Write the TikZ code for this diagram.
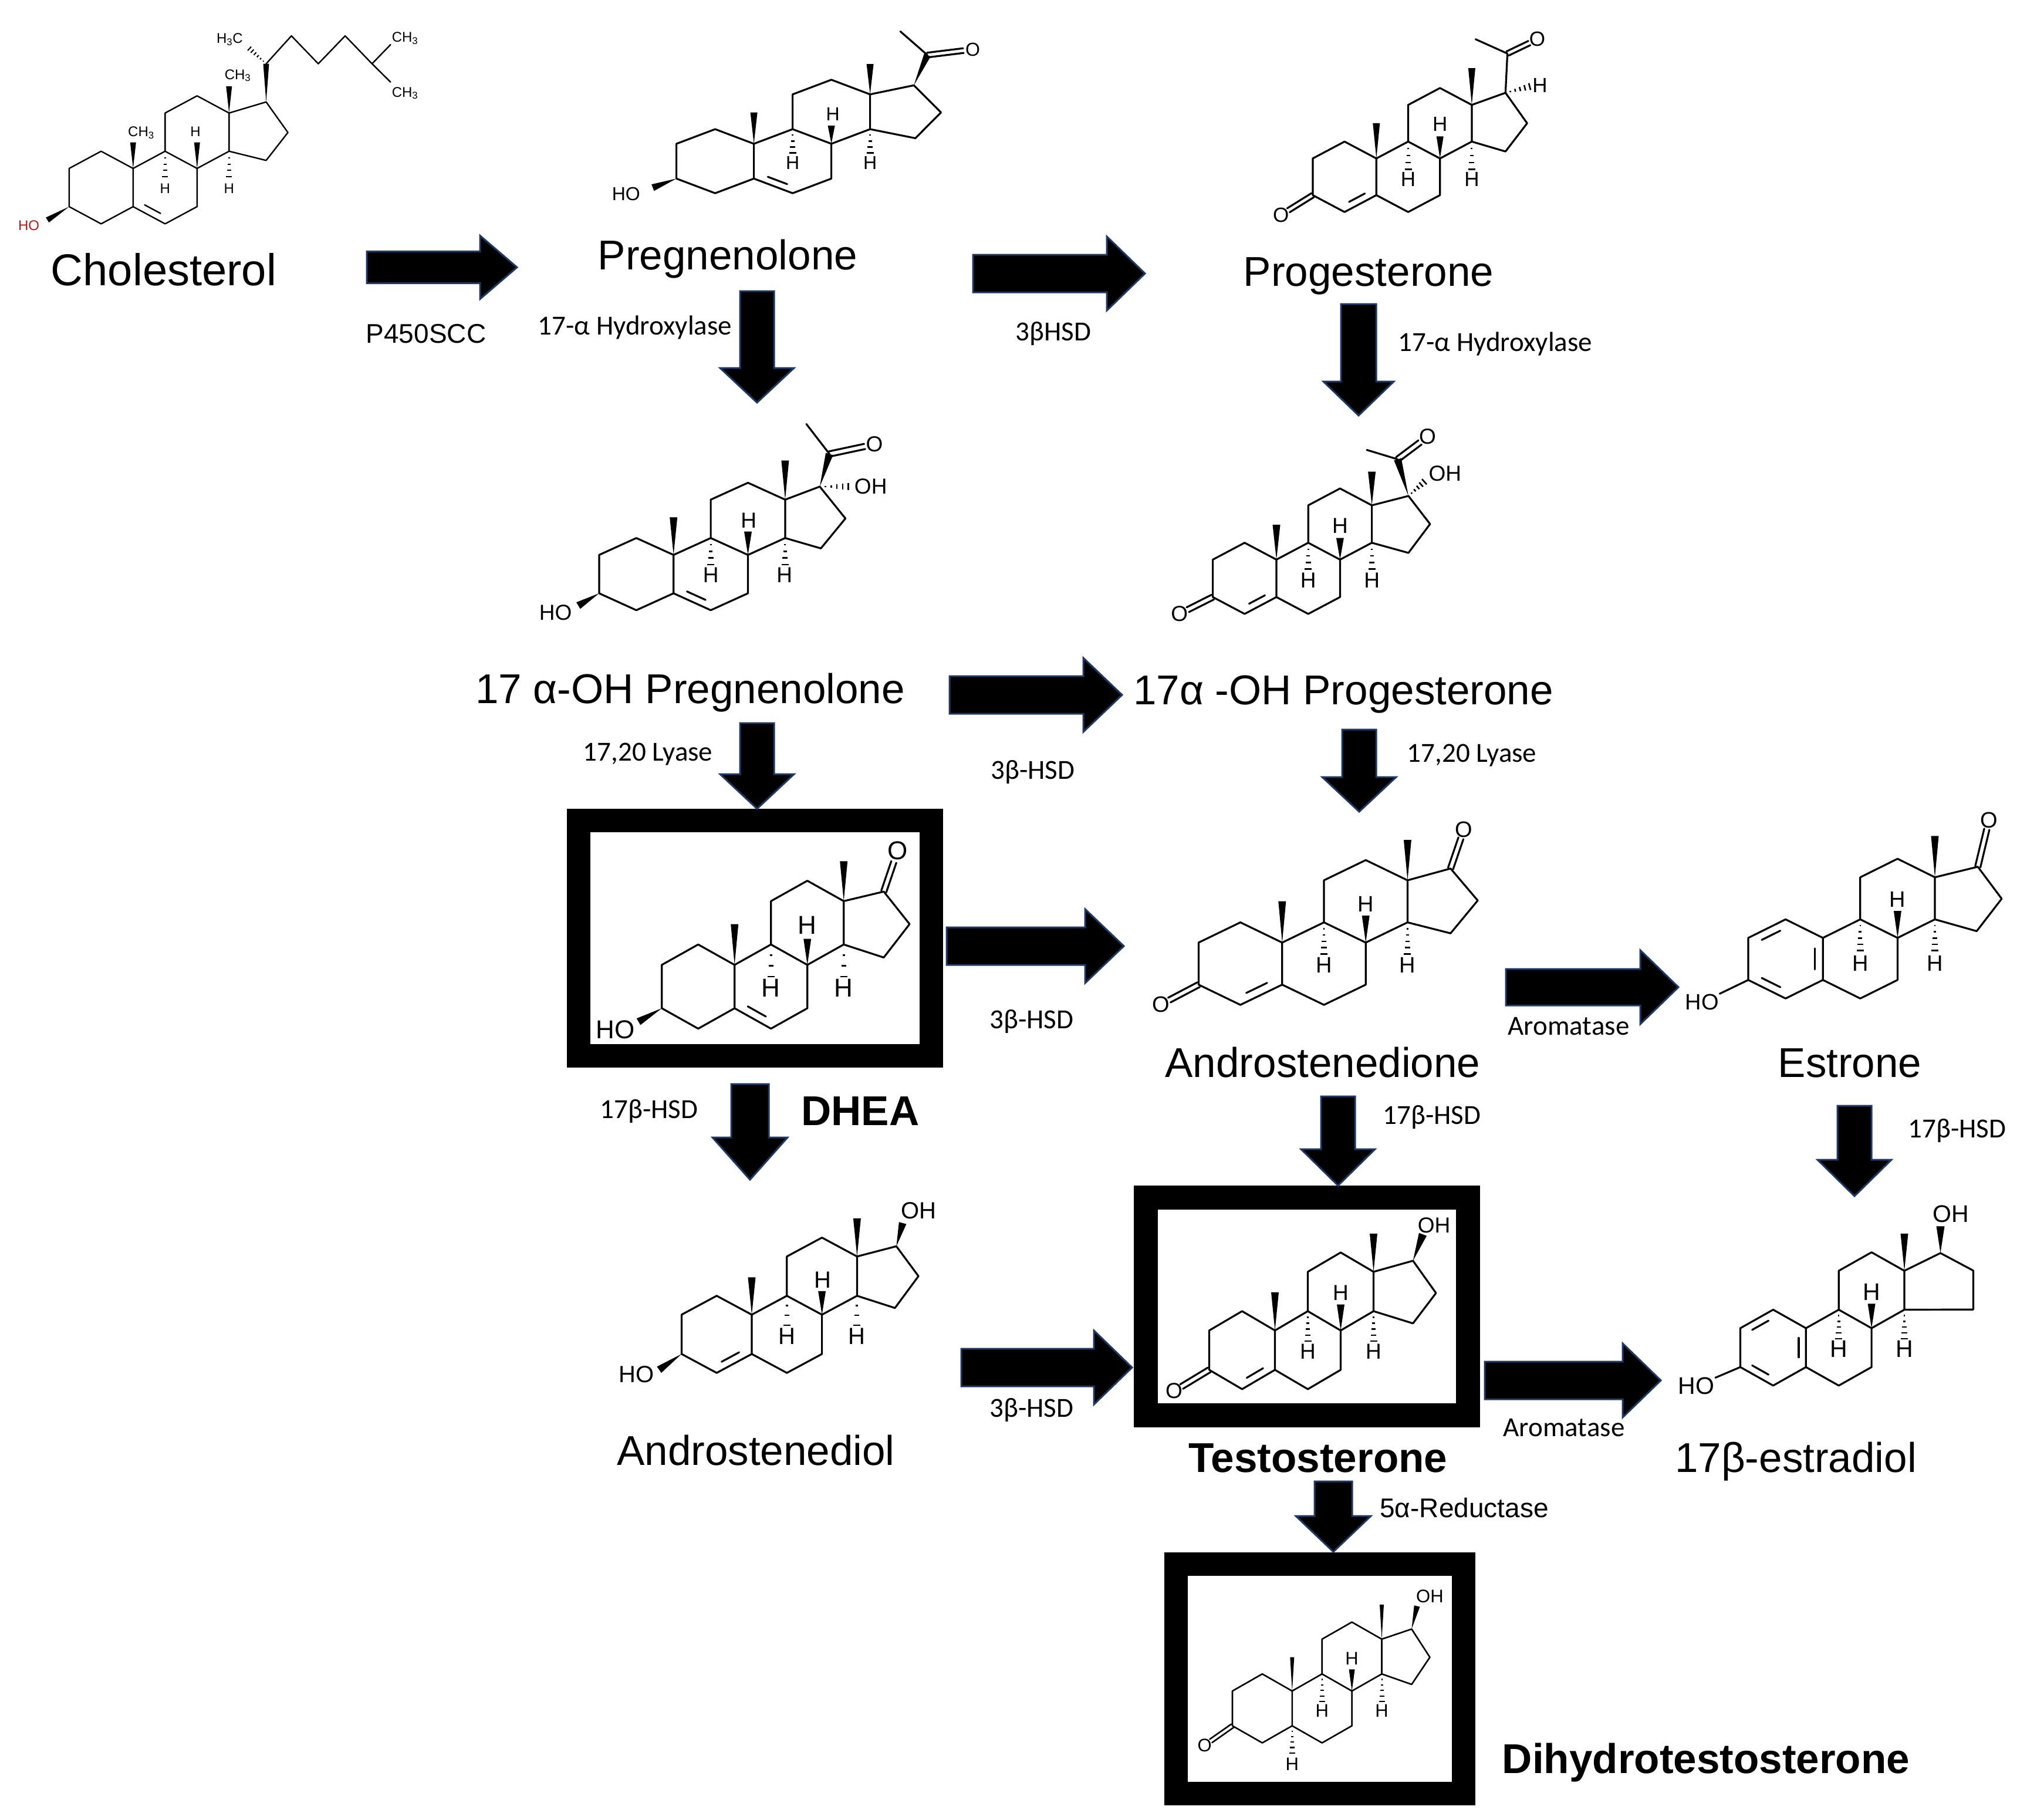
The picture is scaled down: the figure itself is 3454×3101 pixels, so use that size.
\documentclass[tikz,border=0pt]{standalone}
\usepackage{fontspec}
\setmainfont{Liberation Sans}
\newfontfamily\calfont{Carlito}
\usetikzlibrary{calc}
\definecolor{arrowblue}{RGB}{32,56,100}
\definecolor{hored}{RGB}{185,25,25}
\tikzset{
 bond/.style={line width=3.2pt, line join=round, line cap=round},
 hashline/.style={line width=2.6pt},
 blockarrow/.style={fill=black, draw=arrowblue, line width=3pt, line join=miter},
 mname/.style={font=\fontsize{71}{85}\selectfont, anchor=base, inner sep=0pt},
 bname/.style={font=\bfseries\fontsize{71}{85}\selectfont, anchor=base, inner sep=0pt},
 enz/.style={font=\calfont\fontsize{47}{56}\selectfont, anchor=base, inner sep=0pt},
 enza/.style={font=\fontsize{46}{56}\selectfont, anchor=base, inner sep=0pt},
 atom/.style={inner sep=1.5pt, font=\fontsize{\atomsize}{\atomsize}\selectfont},
 framebox/.style={draw=black, fill=white, inner sep=0pt},
}
\newcommand\skel[2]{%
 \coordinate (#1c10) at (0,0);
 \coordinate (#1c5) at (0,-1);
 \coordinate (#1c4) at (-1,{-1-#2});
 \coordinate (#1c3) at (-2,-1);
 \coordinate (#1c2) at (-2,0);
 \coordinate (#1c1) at (-1,#2);
 \coordinate (#1c9) at (1,#2);
 \coordinate (#1c8) at (2,0);
 \coordinate (#1c7) at (2,-1);
 \coordinate (#1c6) at (1,{-1-#2});
 \coordinate (#1c11) at (1,{1+#2});
 \coordinate (#1c12) at (2,{1+2*#2});
 \coordinate (#1c13) at (3,{1+#2});
 \coordinate (#1c14) at (3,#2);
 \coordinate (#1rA) at (-1,-0.5);
 \coordinate (#1rB) at (1,-0.5);
}
\newcommand\ringD[7]{\coordinate (#1c17) at (#2,#3); \coordinate (#1c16) at (#4,#5); \coordinate (#1c15) at (#6,#7);}
\newcommand\rings[1]{%
 \draw[bond] (#1c1)--(#1c2)--(#1c3)--(#1c4)--(#1c5)--(#1c10)--cycle;
 \draw[bond] (#1c10)--(#1c9)--(#1c8)--(#1c7)--(#1c6)--(#1c5);
 \draw[bond] (#1c9)--(#1c11)--(#1c12)--(#1c13)--(#1c14)--(#1c8);
 \draw[bond] (#1c13)--(#1c17)--(#1c16)--(#1c15)--(#1c14);
}
\newcommand\wdg[3]{\fill (#1) -- ($(#2)!#3!90:(#1)$) -- ($(#2)!#3!-90:(#1)$) -- cycle;}
\newcommand\hsh[4][0.25,0.5,0.75,1]{\foreach \t in {#1}{\draw[hashline] ($(#2)!\t!(#3)!\t*#4!90:(#2)$) -- ($(#2)!\t!(#3)!\t*#4!-90:(#2)$);}}
\newcommand\inr[3]{\draw[bond] ($(#1)!0.18!(#2)!0.22!(#3)$) -- ($(#1)!0.82!(#2)!0.22!(#3)$);}
\newcommand\dbo[4]{%
 \coordinate (dboE) at ($(#2)!#3!(#1)$);
 \draw[bond] ($(#1)!#4!90:(dboE)$) -- ($(dboE)!#4!-90:(#1)$);
 \draw[bond] ($(#1)!#4!-90:(dboE)$) -- ($(dboE)!#4!90:(#1)$);}
\newcommand\harrow[5]{\filldraw[blockarrow] ($(#1)+(0,-#3)$) -- ($(#2)+(-#5,-#3)$) -- ($(#2)+(-#5,-#4)$) -- (#2) -- ($(#2)+(-#5,#4)$) -- ($(#2)+(-#5,#3)$) -- ($(#1)+(0,#3)$) -- cycle;}
\newcommand\varrow[5]{\filldraw[blockarrow] ($(#1)+(-#3,0)$) -- ($(#2)+(-#3,-#5)$) -- ($(#2)+(-#4,-#5)$) -- (#2) -- ($(#2)+(#4,-#5)$) -- ($(#2)+(#3,-#5)$) -- ($(#1)+(#3,0)$) -- cycle;}
\begin{document}
\begin{tikzpicture}[x=1pt,y=-1pt]
\useasboundingbox (0,0) rectangle (3454,3101);
\fill[white] (0,0) rectangle (3454,3101);

% frames
\node[framebox, line width=40pt, minimum width=601pt, minimum height=401pt] (dheabox) at (1286.5,1598.5) {};
\node[framebox, line width=41pt, minimum width=549pt, minimum height=371pt] (testobox) at (2226.5,2226) {};
\node[framebox, line width=40pt, minimum width=490pt, minimum height=391pt] (dhtbox) at (2249,2860.5) {};

% ---------- Cholesterol
\begin{scope}[shift={(226.8,287)},x=54.5pt,y=65.1pt,bond/.append style={line width=2.4pt},hashline/.append style={line width=2pt}]
\def\atomsize{24}
\skel{ch}{0.45}
\ringD{ch}{4.16}{1.74}{4.84}{0.94}{4.16}{0.21}
\rings{ch}
\inr{chc5}{chc6}{chrB}
\wdg{chc10}{0,0.68}{5pt}
\node[atom] (chMe19) at (0.25,0.93) {CH\textsubscript{3}};
\wdg{chc13}{3,2.15}{5pt}
\node[atom] (chMe18) at (3.27,2.43) {CH\textsubscript{3}};
\wdg{chc8}{2,0.68}{5pt}
\node[atom] (chH8) at (1.95,0.97) {H};
\hsh{chc9}{1,-0.22}{5pt}
\node[atom] (chH9) at (1,-0.53) {H};
\hsh{chc14}{3,-0.22}{5pt}
\node[atom] (chH14) at (3,-0.53) {H};
\wdg{chc3}{-2.68,-1.35}{5pt}
\node[atom,text=hored] (chHO) at (-3.26,-1.5) {HO};
\coordinate (chc20) at (4.16,2.74);
\coordinate (chc22) at (4.95,3.47);
\coordinate (chc23) at (5.79,2.74);
\coordinate (chc24) at (6.63,3.47);
\coordinate (chc25) at (7.47,2.74);
\coordinate (chc26) at (8.05,3.24);
\coordinate (chc27) at (8.05,2.26);
\wdg{chc17}{chc20}{5pt}
\hsh[0.15,0.3,0.45,0.6,0.75,0.9]{chc20}{3.58,3.18}{5pt}
\node[atom] (chMe21) at (3.02,3.38) {H\textsubscript{3}C};
\draw[bond] (chc20)--(chc22)--(chc23)--(chc24)--(chc25)--(chc26);
\draw[bond] (chc25)--(chc27);
\node[atom] (chMe26) at (8.5,3.41) {CH\textsubscript{3}};
\node[atom] (chMe27) at (8.5,1.97) {CH\textsubscript{3}};
\end{scope}

% ---------- Pregnenolone
\begin{scope}[shift={(1284.6,245)},x=66pt,y=59.3pt]
\def\atomsize{32}
\skel{pg}{0.42}
\ringD{pg}{4.13}{1.68}{4.83}{0.9}{4.17}{0.16}
\rings{pg}
\inr{pgc5}{pgc6}{pgrB}
\wdg{pgc10}{0,0.9}{6pt}
\wdg{pgc13}{3,2.29}{6pt}
\wdg{pgc8}{2,0.52}{6pt}
\node[atom] (pgH8) at (2.04,0.86) {H};
\hsh{pgc9}{1,-0.26}{6pt}
\node[atom] (pgH9) at (1,-0.55) {H};
\hsh{pgc14}{3,-0.26}{6pt}
\node[atom] (pgH14) at (3,-0.55) {H};
\wdg{pgc3}{-2.61,-1.26}{6pt}
\node[atom] (pgHO) at (-3.3,-1.45) {HO};
\coordinate (pgc20) at (4.48,2.55);
\coordinate (pgc21) at (3.78,3.23);
\wdg{pgc17}{pgc20}{6pt}
\draw[bond] (pgc20)--(pgc21);
\node[atom] (pgO) at (5.65,2.71) {O};
\dbo{pgc20}{pgO}{16pt}{4pt}
\end{scope}

% ---------- Progesterone
\begin{scope}[shift={(2345.3,270)},x=54.2pt,y=62.5pt]
\def\atomsize{35}
\skel{pr}{0.46}
\ringD{pr}{4.06}{1.79}{4.74}{0.96}{4.06}{0.19}
\rings{pr}
\inr{prc4}{prc5}{prrA}
\wdg{prc10}{0,0.96}{6pt}
\wdg{prc13}{3,2.46}{6pt}
\wdg{prc8}{2,0.6}{6pt}
\node[atom] (prH8) at (2,0.93) {H};
\hsh{prc9}{1,-0.3}{6pt}
\node[atom] (prH9) at (1,-0.57) {H};
\hsh{prc14}{3,-0.3}{6pt}
\node[atom] (prH14) at (3,-0.57) {H};
\node[atom] (prO3) at (-3.0,-1.54) {O};
\dbo{prc3}{prO3}{15pt}{4pt}
\coordinate (prc20) at (4.12,2.86);
\coordinate (prc21) at (3.12,3.25);
\draw[bond] (prc17)--(prc20)--(prc21);
\node[atom] (prO20) at (5.06,3.25) {O};
\dbo{prc20}{prO20}{15pt}{4pt}
\hsh[0.2,0.4,0.6,0.8,1]{prc17}{4.82,1.96}{6pt}
\node[atom] (prH17) at (5.14,2.0) {H};
\end{scope}

% ---------- 17a-OH Pregnenolone
\begin{scope}[shift={(1147.7,945.5)},x=63.4pt,y=65.4pt]
\def\atomsize{37}
\skel{op}{0.44}
\ringD{op}{3.93}{1.78}{4.62}{0.95}{3.96}{0.17}
\rings{op}
\inr{opc5}{opc6}{oprB}
\wdg{opc10}{0,0.98}{6.5pt}
\wdg{opc13}{3,2.46}{6.5pt}
\wdg{opc8}{2,0.61}{6.5pt}
\node[atom] (opH8) at (2.02,0.9) {H};
\hsh{opc9}{1,-0.25}{6pt}
\node[atom] (opH9) at (1,-0.53) {H};
\hsh{opc14}{3,-0.25}{6pt}
\node[atom] (opH14) at (2.98,-0.53) {H};
\wdg{opc3}{-2.56,-1.32}{6.5pt}
\node[atom] (opHO) at (-3.17,-1.51) {HO};
\coordinate (opc20) at (4.19,2.63);
\coordinate (opc21) at (3.57,3.41);
\wdg{opc17}{opc20}{6.5pt}
\draw[bond] (opc20)--(opc21);
\node[atom] (opO) at (5.4,2.88) {O};
\dbo{opc20}{opO}{17pt}{4.5pt}
\hsh[0.2,0.4,0.6,0.8,1]{opc17}{4.7,1.78}{6pt}
\node[atom] (opOH) at (5.3,1.78) {OH};
\end{scope}

% ---------- 17a-OH Progesterone
\begin{scope}[shift={(2175,953.5)},x=54.2pt,y=63.8pt]
\def\atomsize{37}
\skel{oq}{0.45}
\ringD{oq}{4.15}{1.7}{4.83}{0.95}{4.15}{0.18}
\rings{oq}
\inr{oqc4}{oqc5}{oqrA}
\wdg{oqc10}{0,0.93}{6.5pt}
\wdg{oqc13}{3,2.35}{6.5pt}
\wdg{oqc8}{2,0.58}{6.5pt}
\node[atom] (oqH8) at (2,0.9) {H};
\hsh{oqc9}{1,-0.25}{6pt}
\node[atom] (oqH9) at (1,-0.55) {H};
\hsh{oqc14}{3,-0.25}{6pt}
\node[atom] (oqH14) at (3,-0.55) {H};
\node[atom] (oqO3) at (-3.05,-1.45) {O};
\dbo{oqc3}{oqO3}{16pt}{4.5pt}
\coordinate (oqc20) at (3.81,2.68);
\coordinate (oqc21) at (2.84,2.93);
\wdg{oqc17}{oqc20}{6.5pt}
\draw[bond] (oqc20)--(oqc21);
\node[atom] (oqO20) at (4.75,3.28) {O};
\dbo{oqc20}{oqO20}{16pt}{4.5pt}
\hsh[0.2,0.4,0.6,0.8,1]{oqc17}{4.65,2.08}{6pt}
\node[atom] (oqOH) at (5.3,2.3) {OH};
\end{scope}

% ---------- DHEA
\begin{scope}[shift={(1251.7,1644)},x=62pt,y=73.9pt]
\def\atomsize{44}
\skel{dh}{0.47}
\ringD{dh}{4.1}{1.69}{4.81}{0.94}{4.1}{0.17}
\rings{dh}
\inr{dhc5}{dhc6}{dhrB}
\wdg{dhc10}{0,0.94}{6.5pt}
\wdg{dhc13}{3,2.39}{6.5pt}
\wdg{dhc8}{2,0.6}{6.5pt}
\node[atom] (dhH8) at (2,0.92) {H};
\hsh[0.33,0.66,1]{dhc9}{1,-0.27}{6pt}
\node[atom] (dhH9) at (1,-0.53) {H};
\hsh[0.33,0.66,1]{dhc14}{3,-0.27}{6pt}
\node[atom] (dhH14) at (3,-0.53) {H};
\node[atom] (dhO) at (4.48,2.63) {O};
\dbo{dhc17}{dhO}{20pt}{4.5pt}
\wdg{dhc3}{-2.64,-1.31}{6.5pt}
\node[atom] (dhHO) at (-3.27,-1.49) {HO};
\end{scope}

% ---------- Androstenedione
\begin{scope}[shift={(2184.8,1606)},x=71.2pt,y=71.7pt]
\def\atomsize{38}
\skel{ad}{0.48}
\ringD{ad}{4.03}{1.76}{4.68}{1.0}{4.03}{0.22}
\rings{ad}
\inr{adc4}{adc5}{adrA}
\wdg{adc10}{0,0.98}{6.5pt}
\wdg{adc13}{3,2.44}{6.5pt}
\wdg{adc8}{2,0.64}{6.5pt}
\node[atom] (adH8) at (2,0.91) {H};
\hsh[0.2,0.4,0.6,0.8,1]{adc9}{1,-0.27}{6pt}
\node[atom] (adH9) at (1,-0.53) {H};
\hsh[0.2,0.4,0.6,0.8,1]{adc14}{3,-0.27}{6pt}
\node[atom] (adH14) at (3,-0.53) {H};
\node[atom] (adO3) at (-2.9,-1.47) {O};
\dbo{adc3}{adO3}{16pt}{4.5pt}
\node[atom] (adO17) at (4.35,2.69) {O};
\dbo{adc17}{adO17}{16pt}{4.5pt}
\end{scope}

% ---------- Estrone
\begin{scope}[shift={(3106.2,1598)},x=63.6pt,y=71.7pt]
\def\atomsize{38}
\skel{es}{0.44}
\ringD{es}{4.15}{1.69}{4.79}{0.93}{4.12}{0.16}
\rings{es}
\inr{esc1}{esc2}{esrA}
\inr{esc3}{esc4}{esrA}
\inr{esc5}{esc10}{esrA}
\wdg{esc13}{3,2.42}{6.5pt}
\wdg{esc8}{2,0.64}{6.5pt}
\node[atom] (esH8) at (2,0.91) {H};
\hsh[0.2,0.4,0.6,0.8,1]{esc9}{1,-0.3}{6pt}
\node[atom] (esH9) at (1,-0.6) {H};
\hsh[0.2,0.4,0.6,0.8,1]{esc14}{3,-0.3}{6pt}
\node[atom] (esH14) at (3,-0.6) {H};
\node[atom] (esO17) at (4.45,2.8) {O};
\dbo{esc17}{esO17}{16pt}{4.5pt}
\node[atom] (esHO) at (-3.24,-1.53) {HO};
\draw[bond] (esc3) -- (esHO);
\end{scope}

% ---------- Androstenediol
\begin{scope}[shift={(1281,2240)},x=59.8pt,y=67pt]
\def\atomsize{40}
\skel{al}{0.48}
\ringD{al}{4.12}{1.74}{4.75}{0.98}{4.08}{0.17}
\rings{al}
\inr{alc4}{alc5}{alrA}
\wdg{alc10}{0,0.95}{6.5pt}
\wdg{alc13}{3,2.45}{6.5pt}
\wdg{alc8}{2,0.6}{6.5pt}
\node[atom] (alH8) at (2.03,0.88) {H};
\hsh[0.33,0.66,1]{alc9}{1,-0.27}{6pt}
\node[atom] (alH9) at (1,-0.55) {H};
\hsh[0.33,0.66,1]{alc14}{3,-0.27}{6pt}
\node[atom] (alH14) at (3,-0.55) {H};
\wdg{alc3}{-2.64,-1.4}{6.5pt}
\node[atom] (alHO) at (-3.28,-1.52) {HO};
\wdg{alc17}{4.3,2.33}{6.5pt}
\node[atom] (alOH) at (4.75,2.64) {OH};
\end{scope}

% ---------- Testosterone
\begin{scope}[shift={(2172.5,2266.9)},x=56pt,y=67.1pt]
\def\atomsize{37}
\skel{ts}{0.49}
\ringD{ts}{4.2}{1.77}{4.9}{0.95}{4.2}{0.18}
\rings{ts}
\inr{tsc4}{tsc5}{tsrA}
\wdg{tsc10}{0,0.97}{6.5pt}
\wdg{tsc13}{3,2.46}{6.5pt}
\wdg{tsc8}{2,0.66}{6.5pt}
\node[atom] (tsH8) at (2,0.95) {H};
\hsh[0.2,0.4,0.6,0.8,1]{tsc9}{1,-0.27}{6pt}
\node[atom] (tsH9) at (1,-0.54) {H};
\hsh[0.2,0.4,0.6,0.8,1]{tsc14}{3,-0.27}{6pt}
\node[atom] (tsH14) at (3,-0.54) {H};
\node[atom] (tsO3) at (-3.07,-1.54) {O};
\dbo{tsc3}{tsO3}{15pt}{4.5pt}
\wdg{tsc17}{4.5,2.44}{7pt}
\node[atom] (tsOH) at (4.84,2.67) {OH};
\end{scope}

% ---------- 17b-estradiol
\begin{scope}[shift={(3077.3,2263)},x=55.9pt,y=66.3pt]
\def\atomsize{41}
\skel{ed}{0.475}
\ringD{ed}{4.1}{1.93}{5.1}{1.48}{5.1}{0.48}
\rings{ed}
\inr{edc1}{edc2}{edrA}
\inr{edc3}{edc4}{edrA}
\inr{edc5}{edc10}{edrA}
\wdg{edc13}{3,2.43}{6.5pt}
\wdg{edc17}{4.1,2.62}{7pt}
\node[atom] (edOH) at (4.41,2.93) {OH};
\wdg{edc8}{2,0.63}{6.5pt}
\node[atom] (edH8) at (2,0.93) {H};
\hsh[0.2,0.4,0.6,0.8,1]{edc9}{1,-0.27}{6pt}
\node[atom] (edH9) at (1,-0.53) {H};
\hsh[0.2,0.4,0.6,0.8,1]{edc14}{3,-0.27}{6pt}
\node[atom] (edH14) at (3,-0.53) {H};
\node[atom] (edHO) at (-3.34,-1.48) {HO};
\draw[bond] (edc3) -- (edHO);
\end{scope}

% ---------- Dihydrotestosterone
\begin{scope}[shift={(2201.8,2881.2)},x=50.9pt,y=59.3pt,bond/.append style={line width=2.6pt},hashline/.append style={line width=2.2pt}]
\def\atomsize{31}
\skel{dt}{0.49}
\ringD{dt}{4.0}{1.78}{4.61}{0.97}{4.0}{0.19}
\rings{dt}
\wdg{dtc10}{0,0.97}{3.5pt}
\wdg{dtc13}{3,2.48}{3.5pt}
\wdg{dtc8}{2,0.62}{5pt}
\node[atom] (dtH8) at (2,0.94) {H};
\hsh[0.2,0.4,0.6,0.8,1]{dtc9}{1,-0.3}{5pt}
\node[atom] (dtH9) at (1,-0.56) {H};
\hsh[0.2,0.4,0.6,0.8,1]{dtc14}{3,-0.3}{5pt}
\node[atom] (dtH14) at (3,-0.56) {H};
\hsh[0.2,0.4,0.6,0.8,1]{dtc5}{0,-1.78}{5pt}
\node[atom] (dtH5) at (0,-2.1) {H};
\node[atom] (dtO3) at (-2.93,-1.56) {O};
\dbo{dtc3}{dtO3}{13pt}{3.5pt}
\wdg{dtc17}{4.18,2.44}{5pt}
\node[atom] (dtOH) at (4.61,2.72) {OH};
\end{scope}

% ---------- compound names
\node[mname, font=\fontsize{76}{90}\selectfont] (lchol) at (279,486) {Cholesterol};
\node[mname] (lpreg) at (1240,459) {Pregnenolone};
\node[mname] (lprog) at (2332,487) {Progesterone};
\node[mname] (lohpreg) at (1176,1198) {17 α-OH Pregnenolone};
\node[mname] (lohprog) at (2289,1200) {17α -OH Progesterone};
\node[bname] (ldhea) at (1466,1917) {DHEA};
\node[mname] (landro) at (2254,1835) {Androstenedione};
\node[mname] (lestrone) at (3152,1835) {Estrone};
\node[mname] (ldiol) at (1288,2496) {Androstenediol};
\node[bname] (ltesto) at (2246,2508) {Testosterone};
\node[mname] (lestradiol) at (3060,2508) {17β-estradiol};
\node[bname] (ldht) at (2907,3021) {Dihydrotestosterone};

% ---------- enzyme labels
\node[enza] (e1) at (726,584) {P450SCC};
\node[enz] (e2) at (1082,570) {17-α Hydroxylase};
\node[enz] (e3) at (1795,580) {3βHSD};
\node[enz] (e4) at (2548,598) {17-α Hydroxylase};
\node[enz] (e5) at (1760,1327) {3β-HSD};
\node[enz] (e6) at (1104,1296) {17,20 Lyase};
\node[enz] (e7) at (2508,1298) {17,20 Lyase};
\node[enz] (e8) at (1758,1752) {3β-HSD};
\node[enz] (e9) at (2673,1763) {Aromatase};
\node[enz] (e10) at (1106,1905) {17β-HSD};
\node[enz] (e11) at (2440,1915) {17β-HSD};
\node[enz] (e12) at (3335,1938) {17β-HSD};
\node[enz] (e13) at (1758,2414) {3β-HSD};
\node[enz] (e14) at (2665,2447) {Aromatase};
\node[enza] (e15) at (2495,2585) {5α-Reductase};

% ---------- arrows
\coordinate (a1s) at (625,455.5); \coordinate (a1e) at (881,455.5);
\coordinate (a2s) at (1658,466); \coordinate (a2e) at (1951,466);
\coordinate (a3s) at (1618,1184); \coordinate (a3e) at (1912,1184);
\coordinate (a4s) at (1613,1612); \coordinate (a4e) at (1915,1612);
\coordinate (a5s) at (2566,1682); \coordinate (a5e) at (2860,1682);
\coordinate (a6s) at (1638,2330); \coordinate (a6e) at (1929,2330);
\coordinate (a7s) at (2530,2352); \coordinate (a7e) at (2830,2352);
\harrow{a1s}{a1e}{27}{54}{63}
\harrow{a2s}{a2e}{32}{63}{65}
\harrow{a3s}{a3e}{32}{63}{66}
\harrow{a4s}{a4e}{32}{63}{66}
\harrow{a5s}{a5e}{31}{63}{65}
\harrow{a6s}{a6e}{32}{63}{65}
\harrow{a7s}{a7e}{32}{63}{65}
\coordinate (v1s) at (1290,496); \coordinate (v1e) at (1290,686);
\coordinate (v2s) at (2315,518); \coordinate (v2e) at (2315,708);
\coordinate (v3s) at (1290,1232); \coordinate (v3e) at (1290,1378);
\coordinate (v4s) at (2316,1243); \coordinate (v4e) at (2316,1383);
\coordinate (v5s) at (1278,1847); \coordinate (v5e) at (1278,2010);
\coordinate (v6s) at (2280,1868); \coordinate (v6e) at (2280,2020);
\coordinate (v7s) at (3160,1884); \coordinate (v7e) at (3160,2038);
\coordinate (v8s) at (2272,2524); \coordinate (v8e) at (2272,2644);
\varrow{v1s}{v1e}{29}{63}{59}
\varrow{v2s}{v2e}{30}{60}{58}
\varrow{v3s}{v3e}{29}{63}{59}
\varrow{v4s}{v4e}{29}{63}{59}
\varrow{v5s}{v5e}{32}{64}{72}
\varrow{v6s}{v6e}{29}{63}{62}
\varrow{v7s}{v7e}{29}{63}{62}
\varrow{v8s}{v8e}{32}{64}{61}
\end{tikzpicture}
\end{document}
